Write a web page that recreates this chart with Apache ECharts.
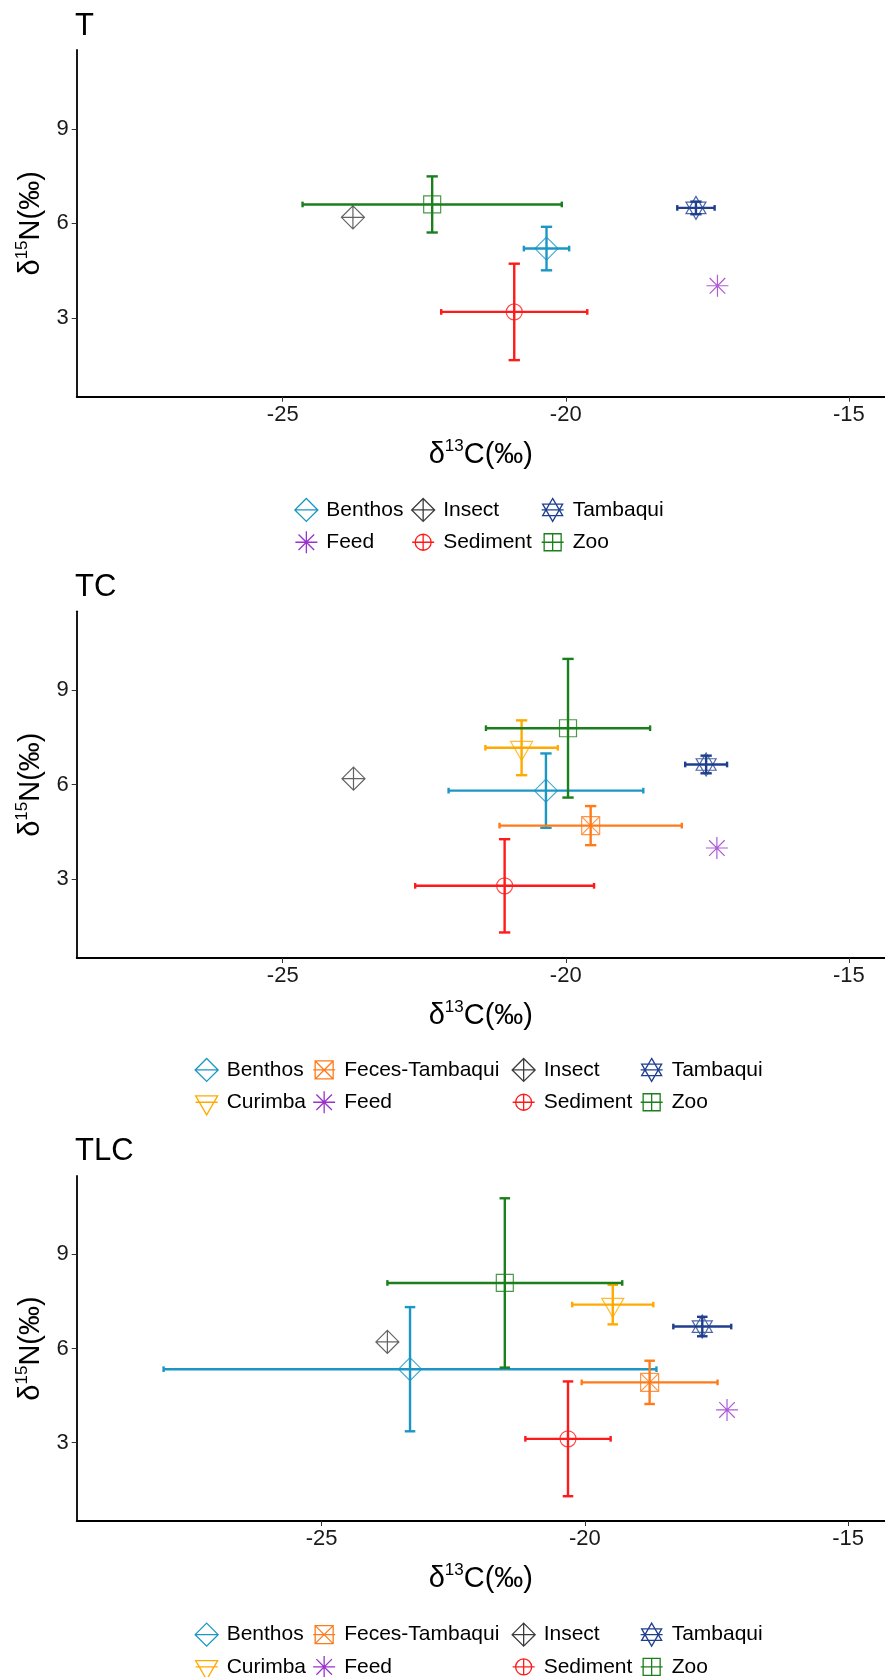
<!DOCTYPE html>
<html>
<head>
<meta charset="utf-8">
<script src="https://cdn.jsdelivr.net/npm/echarts@6/dist/echarts.min.js"></script>
<style>
  html, body { margin: 0; padding: 0; background: #fff; }
  #main { width: 885px; height: 1677px; }
</style>
</head>
<body>
<div id="main"></div>
<script>
  // groups, in legend (alphabetical) order
  const groups = ['Benthos', 'Curimba', 'Feces-Tambaqui', 'Feed', 'Insect', 'Sediment', 'Tambaqui', 'Zoo'];
  const panelNames = ['T', 'TC', 'TLC'];
  const xTicks = [-25, -20, -15];
  const yTicks = [3, 6, 9];

  // mean d13C / d15N and sd, same order as groups (null = not in that panel / no bar)
  const tC13 = [-20.34, null, null, -17.32, -23.76, -20.91, -17.70, -22.36];
  const tN15 = [5.20, null, null, 4.02, 6.19, 3.19, 6.49, 6.60];
  const tC13sd = [0.40, null, null, null, null, 1.29, 0.33, 2.29];
  const tN15sd = [0.69, null, null, null, null, 1.53, 0.20, 0.89];

  const tcC13 = [-20.35, -20.78, -19.56, -17.33, -23.75, -21.08, -17.52, -19.96];
  const tcN15 = [5.81, 7.17, 4.70, 3.99, 6.19, 2.79, 6.64, 7.79];
  const tcC13sd = [1.72, 0.64, 1.61, null, null, 1.58, 0.37, 1.45];
  const tcN15sd = [1.18, 0.87, 0.62, null, null, 1.48, 0.28, 2.20];

  const tlcC13 = [-23.32, -19.47, -18.77, -17.30, -23.75, -20.32, -17.77, -21.52];
  const tlcN15 = [5.34, 7.40, 4.92, 4.04, 6.21, 3.12, 6.70, 8.09];
  const tlcC13sd = [4.68, 0.77, 1.29, null, null, 0.81, 0.55, 2.23];
  const tlcN15sd = [1.98, 0.63, 0.69, null, null, 1.83, 0.31, 2.70];

  const panels = [
    { c13: tC13, n15: tN15, c13sd: tC13sd, n15sd: tN15sd },
    { c13: tcC13, n15: tcN15, c13sd: tcC13sd, n15sd: tcN15sd },
    { c13: tlcC13, n15: tlcN15, c13sd: tlcC13sd, n15sd: tlcN15sd }
  ];

  // ---- styling / layout ----
  const FONT = 'Liberation Sans, Arial, sans-serif';
  const colors = ['#1C96C4', '#FFAA00', '#FF7A1A', '#9A32CD', '#3C3C3C', '#FF1A1A', '#1F3F8E', '#1B7F1B'];
  const PAD = 'M-13,-13M13,13';
  const shapes = [
    'M0,-11.5L11.5,0L0,11.5L-11.5,0Z',
    'M-11,-6.3L11,-6.3L0,12.7Z',
    'M-9,-9L9,-9L9,9L-9,9Z M-9,-9L9,9 M9,-9L-9,9',
    'M-11,0L11,0M0,-11L0,11M-7.8,-7.8L7.8,7.8M7.8,-7.8L-7.8,7.8',
    'M0,-11.5L11.5,0L0,11.5L-11.5,0Z M0,-11.5L0,11.5M-11.5,0L11.5,0',
    'M-8,0A8,8 0 1,0 8,0A8,8 0 1,0 -8,0Z M-8,0L8,0M0,-8L0,8',
    'M0,-11.5L10,5.75L-10,5.75Z M0,11.5L10,-5.75L-10,-5.75Z',
    'M-8.5,-8.5L8.5,-8.5L8.5,8.5L-8.5,8.5Z M0,-8.5L0,8.5M-8.5,0L8.5,0'
  ];
  const keyLine = 'M-11,0L11,0';

  const gridLeft = 76.7;
  const gridTops = [50, 611.3, 1176];
  const gridHeights = [346.7, 346.7, 345];
  const xRanges = [[-28.64, -14.36], [-28.64, -14.36], [-29.65, -14.30]];
  const yRange = [0.5, 11.5];
  const titleTops = [11, 572, 1136];
  const legendTops = [496.3, 1056.3, 1621];
  const legendLefts = [[292.7, 409.5, 539], [193, 310.5, 510, 638], [193, 310.5, 510, 638]];
  const CAP_W = 0.1;   // half cap width of vertical bars (x units)
  const CAP_H = 0.09;  // half cap height of horizontal bars (y units)

  function drawBars(api, color) {
    const x = api.value(0), y = api.value(1), sx = api.value(2), sy = api.value(3);
    const seg = (a, b) => ({
      type: 'line',
      shape: { x1: a[0], y1: a[1], x2: b[0], y2: b[1] },
      style: { stroke: color, lineWidth: 2.4 }
    });
    const out = [];
    if (sx > 0) {
      out.push(seg(api.coord([x - sx, y]), api.coord([x + sx, y])));
      [x - sx, x + sx].forEach(e => out.push(seg(api.coord([e, y - CAP_H]), api.coord([e, y + CAP_H]))));
    }
    if (sy > 0) {
      out.push(seg(api.coord([x, y - sy]), api.coord([x, y + sy])));
      [y - sy, y + sy].forEach(e => out.push(seg(api.coord([x - CAP_W, e]), api.coord([x + CAP_W, e]))));
    }
    return { type: 'group', children: out };
  }

  const axisName = (iso, el) => '{d|δ}{s|' + iso + '}{m|' + el + '(‰)}';
  const nameRich = {
    d: { fontFamily: FONT, fontSize: 29, lineHeight: 34, color: '#000' },
    s: { fontFamily: FONT, fontSize: 17, lineHeight: 12, verticalAlign: 'top', color: '#000' },
    m: { fontFamily: FONT, fontSize: 29, lineHeight: 34, color: '#000' }
  };

  const grids = [], xAxes = [], yAxes = [], titles = [], legends = [], series = [];

  panels.forEach((pd, p) => {
    grids.push({ left: gridLeft, right: 0, top: gridTops[p], height: gridHeights[p], outerBoundsMode: 'none' });
    xAxes.push({
      type: 'value', gridIndex: p, min: xRanges[p][0], max: xRanges[p][1],
      splitLine: { show: false },
      axisLine: { onZero: false, lineStyle: { color: '#000', width: 1.8 } },
      axisTick: { customValues: xTicks, length: 5, lineStyle: { color: '#333' } },
      axisLabel: { customValues: xTicks, fontFamily: FONT, fontSize: 22, color: '#1a1a1a', margin: 7 },
      name: axisName('13', 'C'), nameLocation: 'middle', nameGap: 41,
      nameTextStyle: { rich: nameRich }
    });
    yAxes.push({
      type: 'value', gridIndex: p, min: yRange[0], max: yRange[1],
      splitLine: { show: false },
      axisLine: { onZero: false, lineStyle: { color: '#000', width: 1.8 } },
      axisTick: { customValues: yTicks, length: 5, lineStyle: { color: '#333' } },
      axisLabel: { customValues: yTicks, fontFamily: FONT, fontSize: 22, color: '#1a1a1a', margin: 8 },
      name: axisName('15', 'N'), nameLocation: 'middle', nameGap: 26,
      nameTextStyle: { rich: nameRich }
    });
    titles.push({
      text: panelNames[p], left: 75, top: titleTops[p], padding: 0,
      textStyle: { fontFamily: FONT, fontSize: 31, fontWeight: 'normal', color: '#000' }
    });

    const present = [];
    groups.forEach((g, i) => {
      if (pd.c13[i] == null) return;
      present.push(i);
      series.push({
        type: 'custom', name: g, xAxisIndex: p, yAxisIndex: p, z: 2, silent: true,
        itemStyle: { color: colors[i] },
        encode: { x: 0, y: 1 },
        data: [[pd.c13[i], pd.n15[i], pd.c13sd[i] || 0, pd.n15sd[i] || 0]],
        renderItem: (params, api) => drawBars(api, colors[i])
      });
      series.push({
        type: 'scatter', name: g, xAxisIndex: p, yAxisIndex: p, z: 3, silent: true,
        symbol: 'path://' + PAD + shapes[i], symbolSize: 26,
        itemStyle: { color: 'rgba(0,0,0,0)', borderColor: colors[i], borderWidth: 1.2 },
        data: [[pd.c13[i], pd.n15[i]]]
      });
    });

    // legend: 2 rows, filled column by column
    for (let c = 0; c * 2 < present.length; c++) {
      const idx = present.slice(c * 2, c * 2 + 2);
      legends.push({
        orient: 'vertical', left: legendLefts[p][c], top: legendTops[p], height: 80, padding: 0,
        itemWidth: 30, itemHeight: 26, itemGap: 5, selectedMode: false,
        textStyle: { fontFamily: FONT, fontSize: 21, color: '#000' },
        data: idx.map(i => ({
          name: groups[i],
          icon: 'path://' + PAD + shapes[i] + keyLine,
          itemStyle: { color: 'rgba(0,0,0,0)', borderColor: colors[i], borderWidth: 1.3 }
        }))
      });
    }
  });

  const chart = echarts.init(document.getElementById('main'));
  chart.setOption({
    backgroundColor: '#fff',
    animation: false,
    title: titles,
    grid: grids,
    xAxis: xAxes,
    yAxis: yAxes,
    legend: legends,
    series: series
  });
</script>
</body>
</html>
